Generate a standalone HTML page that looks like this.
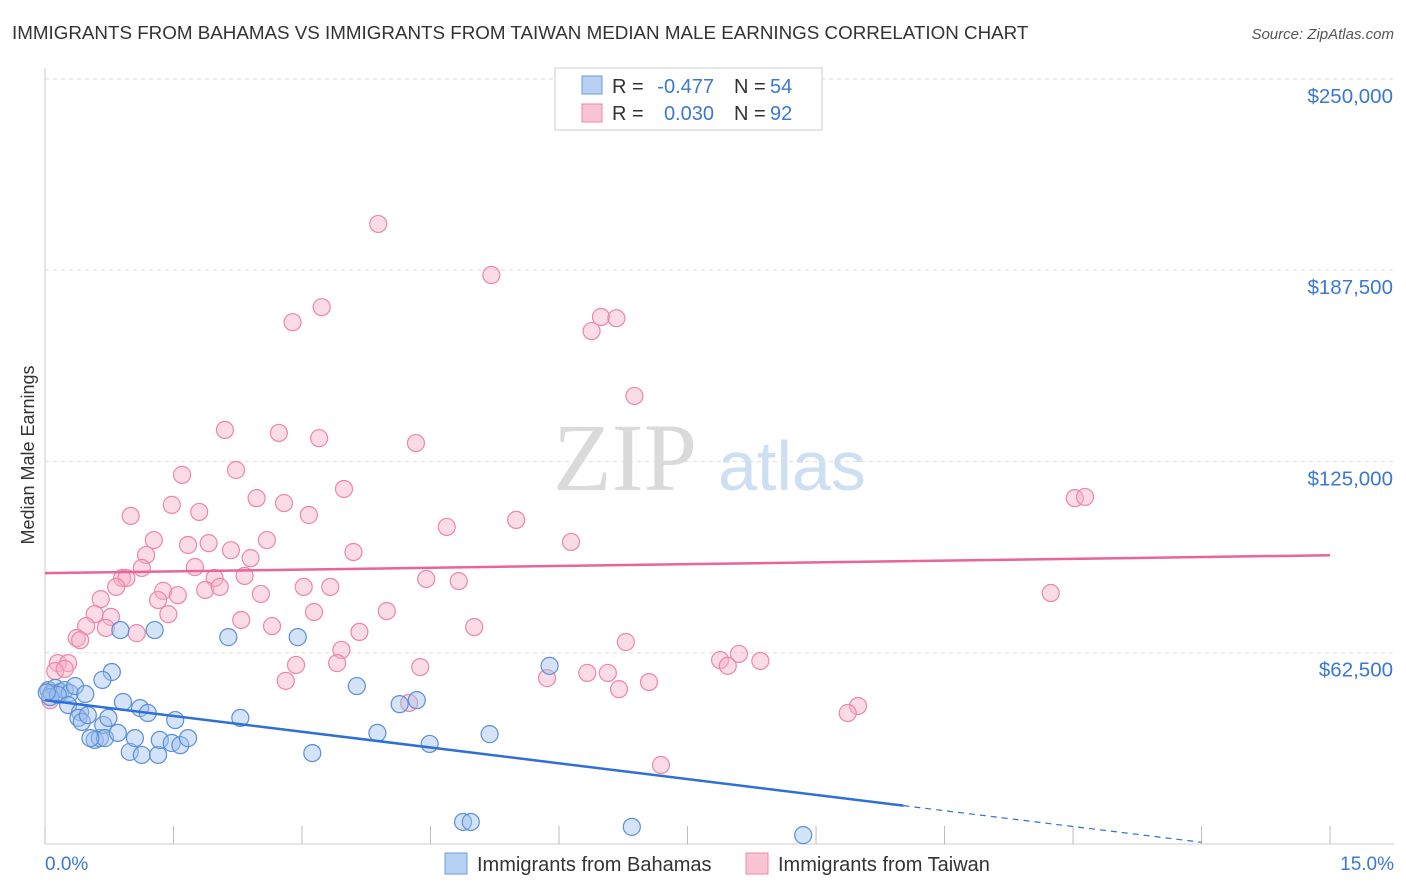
<!DOCTYPE html>
<html><head><meta charset="utf-8"><style>
body{margin:0;background:#fff;font-family:"Liberation Sans",sans-serif;}
#wrap{position:relative;width:1406px;height:892px;overflow:hidden;}
</style></head><body>
<div id="wrap">
<svg id="svg" width="1406" height="892">
<text x="12" y="39" font-size="18.8" fill="#333">IMMIGRANTS FROM BAHAMAS VS IMMIGRANTS FROM TAIWAN MEDIAN MALE EARNINGS CORRELATION CHART</text>
<text x="1394" y="39" font-size="15" fill="#555" font-style="italic" text-anchor="end">Source: ZipAtlas.com</text>
<text x="34" y="455" font-size="18" fill="#333" text-anchor="middle" transform="rotate(-90 34 455)">Median Male Earnings</text>
<text x="553" y="490" font-size="96" fill="#dadada" font-family="Liberation Serif,serif">ZIP</text>
<text x="718" y="490" font-size="70" fill="#cddff3">atlas</text>
<g id="grid"></g><g id="pts"></g><g id="lines"></g>
<g font-size="20">
<rect x="555" y="68" width="267" height="62" fill="#fff" stroke="#ccc"/>
<rect x="582" y="76" width="20" height="18" fill="#b7d1f3" stroke="#6d9be0"/>
<text x="612" y="93" fill="#333">R =</text><text x="714" y="93" fill="#3b78d0" text-anchor="end">-0.477</text>
<text x="734" y="93" fill="#333">N =</text><text x="770" y="93" fill="#3b78d0">54</text>
<rect x="582" y="104" width="20" height="18" fill="#f9c3d3" stroke="#ee8aa8"/>
<text x="612" y="120" fill="#333">R =</text><text x="714" y="120" fill="#3b78d0" text-anchor="end">0.030</text>
<text x="734" y="120" fill="#333">N =</text><text x="770" y="120" fill="#3b78d0">92</text>
</g>
<g>
<rect x="445" y="853" width="22" height="21" fill="#b7d1f3" stroke="#6d9be0"/>
<text x="477" y="871" font-size="20" fill="#333">Immigrants from Bahamas</text>
<rect x="746" y="853" width="22" height="21" fill="#f9c3d3" stroke="#ee8aa8"/>
<text x="778" y="871" font-size="20" fill="#333">Immigrants from Taiwan</text>
</g>
<text x="45" y="870" font-size="19" fill="#3b78d0">0.0%</text>
<text x="1394" y="870" font-size="19" fill="#3b78d0" text-anchor="end">15.0%</text>
</svg></div>
<script>
const yTicks=[62500,125000,187500,250000];
const yTickLabels=["$62,500","$125,000","$187,500","$250,000"];
const xTicks=[0,1.5,3,4.5,6,7.5,9,10.5,12,13.5,15];
const bahamasX=[0.04,0.08,0.12,0.18,0.23,0.29,0.35,0.06,0.15,0.47,0.27,0.41,0.39,0.43,0.50,0.58,0.64,0.68,0.74,0.78,0.67,0.70,0.85,0.88,0.91,0.99,1.05,1.11,1.13,1.20,1.28,1.32,1.34,1.48,1.52,1.58,1.67,2.14,2.28,2.95,3.12,3.64,3.88,4.14,4.34,4.49,4.88,4.97,5.19,5.89,6.85,8.85,0.53,0.02];
const bahamasY=[50.3,49.3,51.0,49.7,50.3,49.3,51.6,48.0,48.7,49.0,45.4,43.1,41.2,39.9,42.1,34.0,34.6,38.9,41.2,56.2,53.6,34.6,36.3,69.9,46.4,30.1,34.6,44.4,29.1,42.8,69.9,29.1,34.0,33.0,40.5,32.3,34.6,67.6,41.2,67.6,29.7,51.6,36.3,45.7,47.0,32.7,7.2,7.2,35.9,58.2,5.6,2.9,34.6,49.5];
const taiwanX=[3.89,5.21,3.23,2.89,6.49,6.67,6.38,6.88,2.10,2.73,3.20,4.33,1.60,2.23,3.49,2.47,2.79,1.48,1.00,1.80,3.08,5.50,4.69,12.02,12.14,1.27,1.67,1.91,2.17,2.59,6.14,2.40,3.60,1.18,1.75,1.13,0.90,0.95,1.98,2.33,4.45,4.83,0.83,1.38,1.55,1.87,2.04,2.52,3.02,3.33,1.32,0.65,1.44,2.29,3.14,3.99,11.74,0.58,0.77,0.48,0.71,1.07,2.65,3.67,5.01,0.37,0.41,6.78,3.46,7.88,8.10,8.35,7.97,2.93,3.41,4.38,0.15,0.27,0.12,0.23,6.57,6.33,5.86,2.81,7.05,6.70,4.25,9.49,9.37,7.19,0.04,0.06];
const taiwanY=[202.6,185.9,175.4,170.5,172.2,171.8,167.6,146.4,135.3,134.3,132.6,131.0,120.6,122.2,116.0,113.0,111.4,110.8,107.2,108.5,107.5,105.9,103.6,113.0,113.4,99.3,97.7,98.3,96.0,99.3,98.7,93.4,95.4,94.4,90.5,90.2,86.9,86.9,86.9,87.6,86.6,85.9,84.0,82.7,81.3,83.0,84.0,81.7,84.0,84.0,79.7,80.0,75.1,73.2,75.8,76.1,82.0,75.1,74.2,71.2,70.6,68.9,71.2,69.3,70.9,67.3,66.6,66.0,63.4,60.1,62.1,59.8,58.2,58.5,59.1,57.8,59.1,59.1,56.5,57.2,55.9,55.9,54.2,53.3,52.9,50.6,46.1,45.1,42.8,25.8,50.3,47.0];
const bahamasTrend=[47.0,-3.44];
const taiwanTrend=[88.5,0.39];
const X=v=>45+v*85.67;
function Yk(k){return 844-k*3.0606;}
const NS="http://www.w3.org/2000/svg";
function mk(t,a,p){const e=document.createElementNS(NS,t);for(const k in a)e.setAttribute(k,a[k]);p.appendChild(e);return e;}
const grid=document.getElementById('grid'),svg=document.getElementById('svg');
mk('line',{x1:45,y1:68,x2:45,y2:844,stroke:'#ccc'},grid);
mk('line',{x1:45,y1:844,x2:1394,y2:844,stroke:'#ccc'},grid);
mk('line',{x1:45,y1:79,x2:1394,y2:79,stroke:'#ddd','stroke-dasharray':'4 4'},grid);
yTicks.forEach((t,i)=>{const y=Yk(t/1000);
const l=mk('line',{x1:45,y1:y,x2:1394,y2:y,stroke:'#ddd','stroke-dasharray':'4 4'},grid);


const tx=mk('text',{x:1393,y:y+24,'font-size':20.5,fill:'#3b78d0','text-anchor':'end'},svg);tx.textContent=yTickLabels[i];

});
xTicks.forEach(t=>{const x=X(t);const l=mk('line',{x1:x,y1:826,x2:x,y2:844,stroke:'#bbb'},grid);

});
const pts=document.getElementById('pts');
function draw(xs,ys,fill,stroke,name){xs.forEach((x,i)=>{const c=mk('circle',{cx:X(x),cy:Yk(ys[i]),r:8.5,fill:fill,'fill-opacity':0.45,stroke:stroke,'stroke-width':1.2},pts);

});}
draw(taiwanX,taiwanY,'#f7b0c6','#ee86a6','taiwan-point');
draw(bahamasX,bahamasY,'#9fc2ef','#5b8fd8','bahamas-point');
const lines=document.getElementById('lines');
const bf=x=>bahamasTrend[0]+bahamasTrend[1]*x, tf=x=>taiwanTrend[0]+taiwanTrend[1]*x;
let l=mk('line',{x1:X(0),y1:Yk(bf(0)),x2:X(10.02),y2:Yk(bf(10.02)),stroke:'#2f6fd6','stroke-width':2.5},lines);


l=mk('line',{x1:X(10.02),y1:Yk(bf(10.02)),x2:X(13.5),y2:Yk(bf(13.5)),stroke:'#2f6fd6','stroke-width':1.2,'stroke-dasharray':'6 5'},lines);


l=mk('line',{x1:X(0),y1:Yk(tf(0)),x2:X(15),y2:Yk(tf(15)),stroke:'#e8649a','stroke-width':2.5},lines);


</script>
</body></html>
